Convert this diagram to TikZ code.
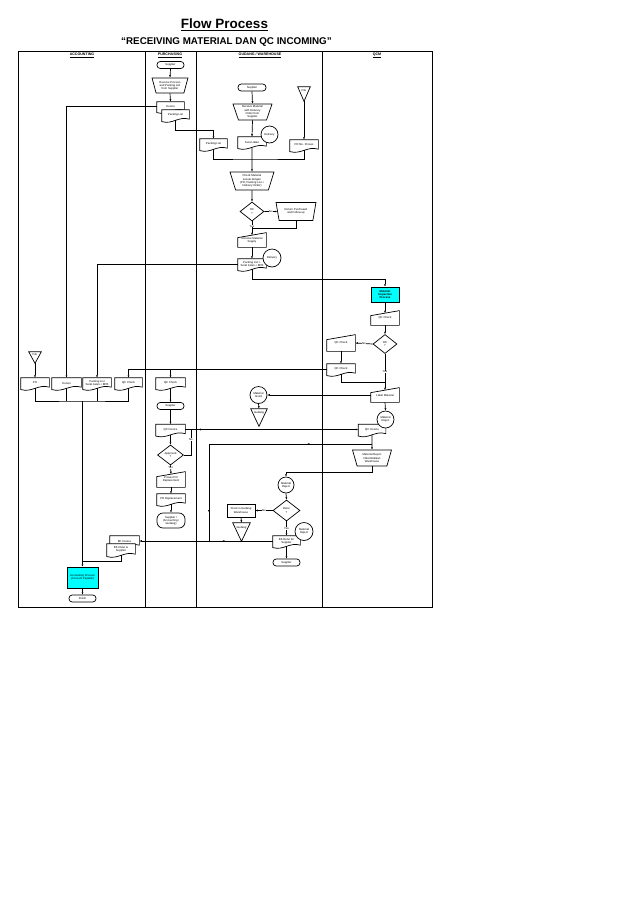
\documentclass[tikz,border=0pt]{standalone}
\usepackage{fontspec}
\setmainfont{Liberation Sans}
\usetikzlibrary{shapes.geometric,arrows.meta,decorations.markings}

\newcommand{\nfont}{\fontsize{2.8}{3.2}\selectfont}

\makeatletter
% document symbol (wavy bottom)
\pgfdeclareshape{docshape}{%
  \inheritsavedanchors[from=rectangle]%
  \inheritanchorborder[from=rectangle]%
  \inheritanchor[from=rectangle]{center}%
  \inheritanchor[from=rectangle]{mid}%
  \inheritanchor[from=rectangle]{base}%
  \inheritanchor[from=rectangle]{north}%
  \inheritanchor[from=rectangle]{south}%
  \inheritanchor[from=rectangle]{east}%
  \inheritanchor[from=rectangle]{west}%
  \inheritanchor[from=rectangle]{north east}%
  \inheritanchor[from=rectangle]{north west}%
  \inheritanchor[from=rectangle]{south east}%
  \inheritanchor[from=rectangle]{south west}%
  \backgroundpath{%
    \southwest \edef\shpsx{\the\pgf@x}\edef\shpsy{\the\pgf@y}%
    \northeast \edef\shpex{\the\pgf@x}\edef\shpey{\the\pgf@y}%
    \pgfpathmoveto{\pgfqpoint{\shpsx}{\shpey}}%
    \pgfpathlineto{\pgfqpoint{\shpex}{\shpey}}%
    \pgfpathlineto{\pgfpoint{\shpex}{\shpsy+1.2pt}}%
    \pgfpathcurveto{\pgfpoint{0.6*\shpex+0.4*\shpsx}{\shpsy+4.5pt}}%
      {\pgfpoint{0.4*\shpex+0.6*\shpsx}{\shpsy-4.5pt}}%
      {\pgfpoint{\shpsx}{\shpsy-1.2pt}}%
    \pgfpathclose}%
}
% manual input (sloped top)
\pgfdeclareshape{manualinput}{%
  \inheritsavedanchors[from=rectangle]%
  \inheritanchorborder[from=rectangle]%
  \inheritanchor[from=rectangle]{center}%
  \inheritanchor[from=rectangle]{mid}%
  \inheritanchor[from=rectangle]{base}%
  \inheritanchor[from=rectangle]{north}%
  \inheritanchor[from=rectangle]{south}%
  \inheritanchor[from=rectangle]{east}%
  \inheritanchor[from=rectangle]{west}%
  \inheritanchor[from=rectangle]{north east}%
  \inheritanchor[from=rectangle]{north west}%
  \inheritanchor[from=rectangle]{south east}%
  \inheritanchor[from=rectangle]{south west}%
  \backgroundpath{%
    \southwest \edef\shpsx{\the\pgf@x}\edef\shpsy{\the\pgf@y}%
    \northeast \edef\shpex{\the\pgf@x}\edef\shpey{\the\pgf@y}%
    \pgfpathmoveto{\pgfqpoint{\shpsx}{\shpsy}}%
    \pgfpathlineto{\pgfpoint{\shpsx}{\shpey-5pt}}%
    \pgfpathlineto{\pgfqpoint{\shpex}{\shpey}}%
    \pgfpathlineto{\pgfqpoint{\shpex}{\shpsy}}%
    \pgfpathclose}%
}
% merge / storage triangle
\pgfdeclareshape{mergetri}{%
  \inheritsavedanchors[from=rectangle]%
  \inheritanchorborder[from=rectangle]%
  \inheritanchor[from=rectangle]{center}%
  \inheritanchor[from=rectangle]{mid}%
  \inheritanchor[from=rectangle]{base}%
  \inheritanchor[from=rectangle]{north}%
  \inheritanchor[from=rectangle]{south}%
  \inheritanchor[from=rectangle]{east}%
  \inheritanchor[from=rectangle]{west}%
  \inheritanchor[from=rectangle]{north east}%
  \inheritanchor[from=rectangle]{north west}%
  \inheritanchor[from=rectangle]{south east}%
  \inheritanchor[from=rectangle]{south west}%
  \backgroundpath{%
    \southwest \edef\shpsx{\the\pgf@x}\edef\shpsy{\the\pgf@y}%
    \northeast \edef\shpex{\the\pgf@x}\edef\shpey{\the\pgf@y}%
    \pgfpathmoveto{\pgfqpoint{\shpsx}{\shpey}}%
    \pgfpathlineto{\pgfqpoint{\shpex}{\shpey}}%
    \pgfpathlineto{\pgfpoint{0.5*\shpsx+0.5*\shpex}{\shpsy}}%
    \pgfpathclose}%
}
\makeatother

\begin{document}
\begin{tikzpicture}[x=1pt,y=-1pt,line width=0.7pt,
  >={Latex[length=2.4pt,width=2pt]},
  every node/.style={font=\nfont,align=center,inner sep=0.4pt},
  shp/.style={draw,fill=white,line width=0.7pt},
  term/.style={shp,rectangle,rounded corners=3.2pt,minimum width=27pt,minimum height=7pt},
  proc/.style={shp,rectangle,minimum width=28pt,minimum height=13pt},
  cyanproc/.style={proc,fill=aqua,font=\nfont\bfseries},
  manop/.style={shp,trapezium,trapezium stretches=true,shape border rotate=180,
    trapezium left angle=72,trapezium right angle=72,minimum width=38pt,minimum height=16pt},
  decide/.style={shp,diamond,minimum width=24pt,minimum height=19pt,inner sep=0pt},
  conn/.style={shp,circle,minimum size=17pt,inner sep=0pt},
  doc/.style={shp,docshape,minimum width=28pt,minimum height=10pt},
  minput/.style={shp,manualinput,minimum width=28pt,minimum height=14pt},
  store/.style={shp,mergetri,minimum width=13pt,minimum height=14pt,inner sep=0pt,
    text height=2.2pt,text depth=8pt},
  lane/.style={font=\fontsize{3.6}{4}\selectfont\bfseries},
  yn/.style={fill=white,inner sep=0.3pt},
  midarr/.style={postaction={decorate},decoration={markings,
    mark=at position #1 with {\arrow{Latex[length=2.4pt,width=2pt]}}}}
]
\definecolor{aqua}{RGB}{0,255,255}
\useasboundingbox (0,0) rectangle (638,903);

% judul
\node[font=\fontsize{13.5}{16}\selectfont\bfseries] (judul) at (224.5,25) {\underline{Flow Process}};
\node[font=\fontsize{9.8}{11}\selectfont\bfseries] (subjudul) at (226.5,42) {“RECEIVING MATERIAL DAN QC INCOMING”};

% swimlanes
\draw[line width=0.8pt] (18,51) rectangle (432,607);
\foreach \x in {145,196,322}
  \draw[line width=0.8pt] (\x,51) -- (\x,607);
\foreach \x/\nama in {82/ACCOUNTING,170/PURCHASING,260/{GUDANG / WAREHOUSE},377/QCM}
  \node[lane] (hd\x) at (\x,55.5) {\underline{\nama}};

% purchasing
\node[term] (psup) at (170.5,65) {Supplier};
\node[manop,minimum width=36pt,minimum height=15pt] (prcv) at (170,85.5) {Receive Process\\and Packing List\\from Supplier};
\node[doc,minimum width=27pt,minimum height=9pt] (pinv) at (170.5,106.5) {Invoice};
\node[doc,minimum width=27pt] (ppl) at (175.5,115) {Packing List};
\node[doc,minimum width=29pt] (pqc) at (170.5,383) {QC Check};
\node[term] (psup2) at (170.5,406) {Supplier};
\node[doc,minimum width=29pt] (pinv2) at (170.5,429.5) {QC Invoice};
\node[decide,minimum width=26pt,minimum height=20pt] (pdia) at (170.5,455) {Approved\\?};
\node[minput,minimum height=15pt] (ppo) at (171,479.5) {Proses PO\\Replacement};
\node[doc] (pporep) at (171,499) {PO Replacement};
\node[term,rounded corners=6pt,minimum width=28pt,minimum height=15pt] (pend) at (171,520.5) {Supplier /\\(Accounting /\\Gudang)};

% gudang / warehouse
\node[term,minimum width=28pt] (gsup) at (252,87.5) {Supplier};
\node[manop,minimum width=39pt] (grcv) at (252.5,112) {Receive Material\\with Delivery\\Order from\\Supplier};
\node[doc,minimum width=27pt] (gpl) at (213.5,144) {Packing List};
\node[doc] (gsj) at (252,142) {Surat Jalan};
\node[conn] (gdel) at (269.5,134.5) {Delivery};
\node[store,minimum width=12pt] (gfile) at (304,94) {File};
\node[doc] (gpo) at (304,145) {PO No. Proses};
\node[manop,minimum width=44pt,minimum height=18pt] (gchk) at (252,181) {Check Material\\sesuai dengan\\(PO, Packing List +\\Delivery Order)};
\node[decide] (gok) at (252,211.5) {OK\\?};
\node[manop,minimum width=40pt,minimum height=18pt] (gret) at (296,211.5) {Return Purchased\\and Follow up};
\node[minput] (grm) at (252,240) {Receive Material\\Supply};
\node[doc] (gbpb) at (252,264) {Packing List +\\Surat Jalan + BPB};
\node[conn,minimum size=18pt] (gdel2) at (272,258) {Delivery};
\node[conn] (ggood) at (258.5,395) {Material\\Good};
\node[store,minimum width=16pt,minimum height=17pt,text depth=10pt] (gstore) at (259,417.5) {Gudang};
\node[conn,minimum size=16pt] (grej) at (286,485) {Material\\Reject};
\node[decide,minimum width=27pt,minimum height=21pt] (gdia) at (286.5,510.5) {Retur\\?};
\node[proc,minimum height=13pt] (gstock) at (241,510.5) {Stock in Gudang\\Warehouse};
\node[store,minimum width=17pt,minimum height=18pt,text depth=10pt] (gstore2) at (241.5,532) {Gudang};
\node[doc,minimum width=27pt] (gbk) at (286.5,541) {BK Retur ke\\Supplier};
\node[conn,minimum size=18pt] (grej2) at (304,531.5) {Material\\Reject};
\node[term] (gsup2) at (286.5,562.5) {Supplier};

% qcm
\node[cyanproc,minimum height=15pt] (qmip) at (385,294.5) {Material\\Inspection\\Process};
\node[minput] (qchk) at (385,318) {QC Check};
\node[decide] (qok) at (385,344) {OK\\?};
\node[minput,minimum height=16pt] (qno) at (341,343) {QC Check};
\node[doc] (qnodoc) at (341,369) {QC Check};
\node[minput] (qlabel) at (385,395) {Label Material};
\node[doc,minimum width=27pt] (qdoc) at (372,429.5) {QC Invoice};
\node[conn] (qrej) at (385.5,419.5) {Material\\Reject};
\node[manop,minimum width=39pt,minimum height=16pt] (qret) at (372,458) {Material Reject\\Dikembalikan\\Warehouse};

% accounting
\node[store,minimum width=12pt,minimum height=11pt,text depth=6pt] (afile) at (35,357.5) {File};
\node[doc] (apo) at (35,383) {PO};
\node[doc,minimum width=29pt] (ainv) at (66.5,383) {Invoice};
\node[doc] (abpb) at (97,383) {Packing List\\Surat Jalan + BPB};
\node[doc,minimum width=27pt] (aqc) at (128.5,383) {QC Check};
\node[doc,minimum width=29pt] (astack1) at (124.5,541) {BK Invoice};
\node[doc,minimum width=28pt,minimum height=11pt] (astack2) at (121,549.5) {BK Retur \&\\Supplier};
\node[cyanproc,minimum width=31pt,minimum height=21pt,font=\nfont] (aproc) at (82.5,577.5) {Accounting Process\\(Account Payable)};
\node[term] (aend) at (82.5,598.5) {Finish};

% alur purchasing / gudang atas
\draw[->] (psup.south) -- (prcv.north);
\draw[->] (prcv.south) -- (pinv.north);
\draw[->] (ppl.south) -- ++(0,10) -| (gpl.north);
\draw[->] (pinv.west) -| (ainv.north);
\draw[->] (gsup.south) -- (grcv.north);
\draw[->] (grcv.south) -- (gsj.north);
\draw[->] (gfile.south) -- (gpo.north);
\coordinate (gj) at (252,159);
\draw (gpl.south) |- (gj) -| (gpo.south);
\draw[->] (gsj.south) -- (gchk.north);
\draw[->] (gchk.south) -- (gok.north);
\draw[->] (gok.east) -- node[yn] (lno1) {No} (gret.west);
\coordinate (gy) at (252,228);
\draw (gret.south) |- (gy);
\draw[->] (gok.south) -- node[yn,pos=0.35] (lyes1) {Yes} ([yshift=-2.5pt]grm.north);
\draw[->] (grm.south) -- (gbpb.north);
\draw[->] (gbpb.west) -| (abpb.north);
\draw[->] (gbpb.south) -- ++(0,10) -| (qmip.north);

% alur qcm
\draw[->] (qmip.south) -- ([yshift=-2.5pt]qchk.north);
\draw[->] (qchk.south) -- (qok.north);
\draw[->] (qok.west) -- node[yn] (lno2) {No} (qno.east);
\draw[->] (qno.south) -- (qnodoc.north);
\draw[->] (qnodoc.west) -| (aqc.north);
\draw[->] (pqc.north |- qnodoc.west) -- (pqc.north);
\coordinate (qj) at (385,382);
\draw (qnodoc.south) |- (qj);
\draw[->] (qok.south) -- node[yn,pos=0.5] (lyes2) {Yes} ([yshift=-2.5pt]qlabel.north);
\draw[->] (qlabel.west) -- (ggood.east);
\draw[->] (qlabel.south) -- (qrej.north);
\draw[->] (ggood.south) -- (gstore.north);

% alur purchasing bawah
\draw[->] (pqc.south) -- (psup2.north);
\draw[->] (psup2.south) -- (pinv2.north);
\draw[->] (pinv2.south) -- (pdia.north);
\draw[->,midarr=0.1] (pinv2.east) -- (qdoc.west);
\coordinate (pk) at (191,429.5);
\draw (pdia.east) -| node[yn,pos=0.8] (lno3) {No} (pk);
\draw[->] (pdia.south) -- node[yn,pos=0.3] (lyes3) {Yes} ([yshift=-2.5pt]ppo.north);
\draw[->] (ppo.south) -- (pporep.north);
\draw[->] (pporep.south) -- (pend.north);

% retur material
\draw[->] (qdoc.south) -- (qret.north);
\coordinate (qk) at (372,444);
\coordinate (gk) at (209,541);
\draw[postaction={decorate},decoration={markings,
    mark=at position 0.25 with {\arrow{Latex[length=2.4pt,width=2pt]}},
    mark=at position 0.89 with {\arrow{Latex[length=2.4pt,width=2pt]}}}] (qk) -| (gk);
\draw[->] (qret.south) -- ++(0,6) -| (grej.north);
\draw[->] (grej.south) -- (gdia.north);
\draw[->] (gdia.west) -- node[yn] (lno4) {No} (gstock.east);
\draw[->] (gstock.south) -- (gstore2.north);
\draw[->] (gdia.south) -- node[yn] (lyes4) {Yes} (gbk.north);
\draw[->] (gbk.south) -- (gsup2.north);
\draw[->,midarr=0.38] (gbk.west) -- (astack1.east);

% alur accounting
\draw[->] (afile.south) -- (apo.north);
\coordinate (aj) at (82.5,401);
\draw (apo.south) |- (aj) -| (aqc.south);
\draw (ainv.south) -- (ainv.south |- aj);
\draw (abpb.south) -- (abpb.south |- aj);
\draw[->] (aj) -- (aproc.north);
\coordinate (ak) at (82.5,561);
\draw (astack2.south) |- (ak);
\draw[->] (aproc.south) -- (aend.north);
\end{tikzpicture}
\end{document}
